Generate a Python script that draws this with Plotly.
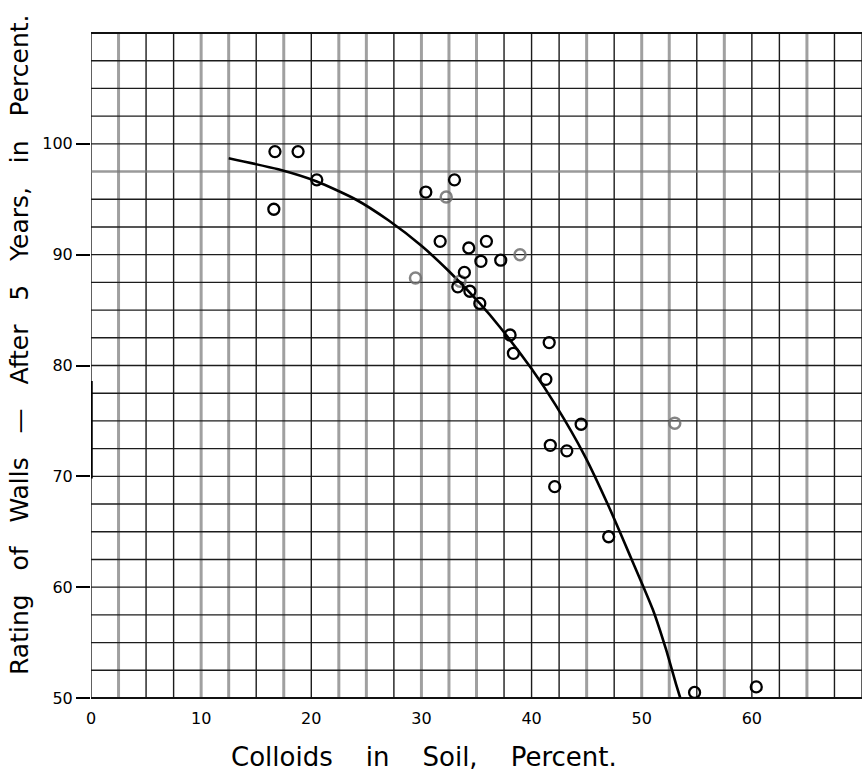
import plotly.graph_objects as go

# ---- data ----
pts_x = [16.7, 18.8, 16.6, 20.5, 30.4, 33.0, 31.7, 34.3, 35.9, 35.4, 37.2, 33.9, 33.3, 34.4,
         35.3, 38.05, 41.6, 38.35, 41.3, 44.5, 41.7, 43.2, 42.1, 47.0, 54.8, 60.4]
pts_y = [99.3, 99.3, 94.1, 96.75, 95.65, 96.75, 91.2, 90.6, 91.2, 89.4, 89.5, 88.4, 87.1, 86.7,
         85.6, 82.75, 82.07, 81.1, 78.75, 74.7, 72.8, 72.3, 69.07, 64.55, 50.5, 51.0]

faint_x = [32.25, 29.46, 38.95, 33.5, 53.0]
faint_y = [95.2, 87.9, 90.0, 87.6, 74.8]

curve_x = [12.5, 17.0, 20.5, 24.0, 27.0, 30.0, 32.5, 35.3, 37.1, 40.0, 42.2, 44.8, 47.0,
           49.0, 51.0, 52.2, 53.1, 53.5]
curve_y = [98.7, 97.7, 96.6, 95.0, 93.1, 90.8, 88.5, 85.6, 83.5, 79.7, 76.4, 71.9, 67.3,
           62.7, 58.0, 54.4, 51.3, 50.0]

x_ticks = [0, 10, 20, 30, 40, 50, 60]
x_tick_text = ["0", "10", "20", "30", "40", "50", "60"]
y_ticks = [50, 60, 70, 80, 90, 100]
y_tick_text = ["50", "60", "70", "80", "90", "100"]

X_RANGE = [0, 70]
Y_RANGE = [50, 110]
GRID_STEP = 2.5

fig = go.Figure()

# ---- graph-paper grid drawn as shapes ----
shapes = []
faint_v = {1, 4, 5, 7, 9, 10, 12, 13, 14, 18, 20, 21, 23, 26}
n_v = int(round((X_RANGE[1] - X_RANGE[0]) / GRID_STEP))
for k in range(n_v + 1):
    xv = X_RANGE[0] + k * GRID_STEP
    if k in faint_v:
        shapes.append(dict(type="line", xref="x", yref="paper", x0=xv, x1=xv, y0=0, y1=1,
                           line=dict(color="rgba(120,120,120,0.7)", width=3), layer="below"))
    else:
        shapes.append(dict(type="line", xref="x", yref="paper", x0=xv, x1=xv, y0=0, y1=1,
                           line=dict(color="#1c1c1c", width=1.4), layer="below"))
n_h = int(round((Y_RANGE[1] - Y_RANGE[0]) / GRID_STEP))
for k in range(n_h + 1):
    yv = Y_RANGE[0] + k * GRID_STEP
    faint = abs(yv - 97.5) < 1e-6
    shapes.append(dict(type="line", xref="paper", yref="y", x0=0, x1=1, y0=yv, y1=yv,
                       line=dict(color="rgba(120,120,120,0.75)" if faint else "#1c1c1c",
                                 width=2.5 if faint else 1.4), layer="below"))
# heavier strokes on the frame
shapes.append(dict(type="line", xref="paper", yref="paper", x0=0, x1=1, y0=1, y1=1,
                   line=dict(color="#111", width=2), layer="below"))
shapes.append(dict(type="line", xref="paper", yref="paper", x0=0, x1=1, y0=0, y1=0,
                   line=dict(color="#111", width=2), layer="below"))
shapes.append(dict(type="line", xref="x", yref="y", x0=0, x1=0, y0=69.8, y1=78.6,
                   line=dict(color="black", width=3.5)))

fig.add_trace(go.Scatter(x=curve_x, y=curve_y, mode="lines",
                         line=dict(color="black", width=2.6, shape="spline", smoothing=0.6),
                         hoverinfo="skip", showlegend=False))
fig.add_trace(go.Scatter(x=faint_x, y=faint_y, mode="markers",
                         marker=dict(symbol="circle-open", size=11, color="rgba(110,110,110,0.85)",
                                     line=dict(width=2.5)), showlegend=False))
fig.add_trace(go.Scatter(x=pts_x, y=pts_y, mode="markers",
                         marker=dict(symbol="circle-open", size=11, color="black",
                                     line=dict(width=2.3)), showlegend=False))

sp3 = "\u00a0\u00a0\u00a0"
sp4 = "\u00a0\u00a0\u00a0\u00a0"
fig.update_layout(
    width=867, height=772,
    margin=dict(l=91, r=5, t=33, b=74),
    paper_bgcolor="white", plot_bgcolor="white",
    shapes=shapes,
    showlegend=False,
    font=dict(family="DejaVu Sans, sans-serif", color="black"),
    xaxis=dict(range=X_RANGE, showgrid=False, zeroline=False, showline=False, automargin=False,
               tickvals=x_ticks, ticktext=x_tick_text, ticks="outside", ticklen=6,
               tickcolor="rgba(0,0,0,0)", tickfont=dict(size=16, family="DejaVu Sans", color="black")),
    yaxis=dict(range=Y_RANGE, showgrid=False, zeroline=False, showline=False, automargin=False,
               tickvals=y_ticks, ticktext=y_tick_text, ticks="outside", ticklen=14, tickwidth=1.5,
               tickcolor="black", tickfont=dict(size=16, family="DejaVu Sans", color="black")),
    annotations=[
        dict(text="Colloids" + sp4 + "in" + sp4 + "Soil," + sp4 + "Percent.", xref="paper", yref="paper",
             x=0.432, y=-0.088, showarrow=False, xanchor="center", yanchor="middle",
             font=dict(size=26, family="DejaVu Sans, sans-serif", color="black")),
        dict(text="Rating" + sp3 + "of" + sp3 + "Walls" + sp3 + "\u2014" + sp3 + "After" + sp3 + "5" + sp3
                  + "Years," + sp3 + "in" + sp3 + "Percent.",
             xref="paper", yref="paper", x=-0.092, y=0.531, textangle=-90, showarrow=False,
             xanchor="center", yanchor="middle",
             font=dict(size=25, family="DejaVu Sans, sans-serif", color="black")),
    ],
)

fig.write_html("out.html", config={"displayModeBar": False},
               post_script="document.body.style.margin='0';document.body.style.overflow='hidden';")
